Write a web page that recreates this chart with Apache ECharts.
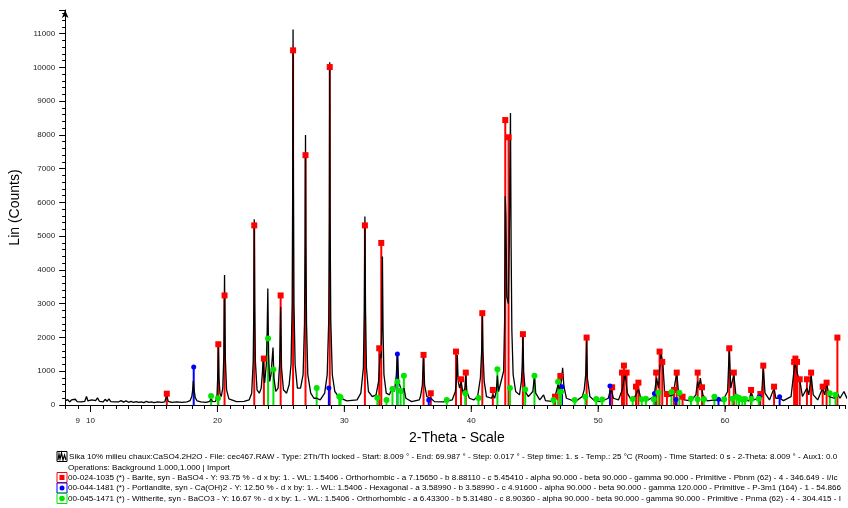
<!DOCTYPE html>
<html>
<head>
<meta charset="utf-8">
<script src="https://cdn.jsdelivr.net/npm/echarts@6/dist/echarts.min.js"></script>
<style>
  html, body { margin: 0; padding: 0; background: #fff; }
  #chart { width: 848px; height: 508px; }
</style>
</head>
<body>
<div id="chart"></div>
<script>
var scan = [
  [8.0,120],[8.2,160],[8.35,90],[8.5,150],[8.65,110],[8.8,170],[8.95,100],[9.1,140],[9.25,95],[9.4,150],
  [9.55,110],[9.68,250],[9.8,120],[9.95,90],[10.1,150],[10.25,100],[10.4,130],[10.55,210],[10.7,110],[10.85,140],
  [11.0,90],[11.15,170],[11.3,110],[11.45,180],[11.6,100],[11.75,150],[11.9,95],[12.05,140],[12.2,90],[12.4,130],
  [12.6,85],[12.8,120],[13.0,80],[13.2,110],[13.4,75],[13.6,100],[13.8,80],[14.0,95],[14.2,70],[14.4,105],
  [14.6,75],[14.8,90],[15.0,70],[15.3,95],[15.6,75],[15.85,90],[16.0,300],[16.12,110],[16.4,80],[16.8,95],
  [17.2,75],[17.6,90],[17.85,130],[17.98,250],[18.05,450],[18.1,720],[18.16,450],[18.25,220],[18.4,120],[18.7,90],
  [19.1,80],[19.4,110],[19.5,210],[19.6,100],[19.85,110],[19.97,300],[20.02,800],[20.07,1850],[20.12,800],[20.2,350],
  [20.3,250],[20.42,500],[20.5,1400],[20.56,3850],[20.62,1400],[20.72,450],[20.9,180],[21.5,100],[22.1,110],[22.5,150],
  [22.7,350],[22.82,1300],[22.87,3000],[22.9,5500],[22.94,3000],[22.99,1300],[23.12,450],[23.3,350],[23.45,500],[23.55,1000],
  [23.6,1400],[23.66,900],[23.72,650],[23.85,1200],[23.92,2200],[23.97,3450],[24.03,1500],[24.12,700],[24.22,900],[24.3,1300],
  [24.38,1700],[24.45,800],[24.6,400],[24.78,500],[24.9,1200],[24.98,2900],[25.05,1100],[25.2,450],[25.45,350],[25.65,600],
  [25.8,1200],[25.89,3000],[25.93,6500],[25.96,11120],[25.99,6500],[26.03,3000],[26.12,1200],[26.3,500],[26.55,500],[26.75,900],
  [26.86,2400],[26.91,4800],[26.94,8000],[26.97,4800],[27.02,2400],[27.12,900],[27.35,350],[27.6,200],[27.82,200],[28.1,150],
  [28.45,350],[28.65,900],[28.77,2500],[28.82,5500],[28.85,10150],[28.88,5500],[28.93,2500],[29.05,900],[29.25,400],[29.6,220],
  [30.2,120],[31.0,150],[31.3,350],[31.5,1100],[31.57,2800],[31.62,5580],[31.67,2800],[31.74,1100],[31.9,400],[32.2,250],
  [32.5,300],[32.7,700],[32.82,1500],[32.9,1400],[32.96,2500],[33.0,4400],[33.05,2200],[33.12,900],[33.3,350],[33.55,300],
  [33.8,550],[33.95,400],[34.1,900],[34.18,1550],[34.28,700],[34.43,700],[34.55,350],[34.7,500],[34.85,200],[35.3,100],
  [35.9,150],[36.0,250],[36.15,600],[36.24,1480],[36.32,600],[36.5,250],[36.81,200],[37.1,100],[37.8,90],[38.5,150],
  [38.75,400],[38.84,800],[38.9,1480],[38.97,700],[39.08,500],[39.2,700],[39.35,350],[39.5,500],[39.57,900],[39.65,400],
  [39.85,200],[40.2,150],[40.5,250],[40.72,800],[40.82,1600],[40.87,2700],[40.92,1600],[41.02,700],[41.2,250],[41.6,200],
  [41.7,300],[41.85,200],[41.98,450],[42.06,870],[42.15,400],[42.3,350],[42.55,1000],[42.63,2500],[42.68,6180],[42.73,5600],
  [42.8,3200],[42.92,3000],[43.0,5000],[43.09,8650],[43.14,4750],[43.2,2200],[43.3,900],[43.5,400],[43.8,300],[43.95,700],
  [44.02,1200],[44.07,2090],[44.13,1000],[44.25,400],[44.5,250],[44.85,400],[44.98,860],[45.08,350],[45.4,150],[45.7,300],
  [45.85,130],[46.3,110],[46.6,250],[46.84,600],[46.95,450],[47.12,750],[47.2,1100],[47.3,550],[47.5,200],[48.2,100],
  [48.75,250],[48.9,450],[49.02,900],[49.09,1950],[49.15,800],[49.35,250],[49.7,130],[50.2,100],[50.8,200],[51.0,500],
  [51.2,200],[51.6,150],[51.9,450],[52.03,750],[52.1,1000],[52.3,350],[52.6,150],[53.0,300],[53.17,500],[53.35,200],
  [53.8,120],[54.4,250],[54.6,800],[54.75,500],[54.95,1580],[55.1,1200],[55.25,300],[55.5,250],[55.9,300],[56.19,950],
  [56.35,300],[56.8,150],[57.3,120],[57.7,300],[57.84,700],[57.95,500],[58.05,800],[58.25,300],[58.6,120],[59.2,150],
  [59.8,120],[60.2,400],[60.33,1650],[60.45,500],[60.69,900],[60.85,300],[61.3,150],[61.9,120],[62.05,400],[62.25,150],
  [62.7,200],[62.9,400],[63.01,1100],[63.15,350],[63.5,150],[63.86,500],[64.0,200],[64.3,200],[64.6,130],[65.2,250],
  [65.5,1250],[65.6,1100],[65.72,900],[65.9,700],[66.1,250],[66.45,500],[66.6,300],[66.78,870],[66.95,300],[67.3,150],
  [67.69,500],[67.85,300],[68.0,650],[68.2,250],[68.6,200],[68.85,350],[69.05,200],[69.37,400],[69.6,200],[69.987,150]
];

// reference lines [2-theta, counts]
var barite = [
  [16.01,335],[20.07,1800],[20.56,3245],[22.9,5320],[23.66,1375],[24.98,3245],[25.96,10505],[26.94,7400],
  [28.85,10010],[31.62,5320],[32.75,1680],[32.91,4800],[36.24,1484],[36.81,347],[38.8,1582],[39.19,762],
  [39.57,960],[40.87,2720],[41.7,445],[42.68,8440],[42.94,7930],[44.07,2098],[46.6,247],[47.02,860],
  [49.09,1997],[51.1,525],[51.88,960],[52.03,1167],[52.24,960],[52.98,543],[53.17,662],[54.57,960],
  [54.84,1582],[55.05,1276],[55.42,326],[55.98,445],[56.19,960],[56.65,247],[57.84,960],[58.18,525],
  [60.33,1680],[60.69,960],[62.05,445],[62.78,326],[63.01,1167],[63.86,543],[65.44,1276],[65.54,1375],
  [65.67,1276],[65.88,762],[66.45,762],[66.78,960],[67.69,543],[68.0,662],[68.85,1997]
];
var portlandite = [
  [18.13,1128],[28.78,505],[34.18,1513],[36.65,150],[47.15,543],[50.93,564],[54.43,340],[56.13,160],
  [59.48,168],[62.7,247],[64.3,247]
];
var witherite = [
  [19.5,270],[20.04,200],[23.99,1970],[24.41,1050],[27.82,505],[29.6,250],[29.7,220],[32.6,212],
  [33.32,150],[33.79,475],[34.18,690],[34.43,425],[34.69,870],[38.07,150],[39.53,347],[40.57,205],
  [42.06,1058],[43.05,505],[44.25,460],[44.98,870],[46.48,150],[46.84,690],[47.07,395],[48.15,150],
  [48.99,247],[49.85,178],[50.32,160],[52.72,178],[53.43,168],[53.76,188],[54.38,168],[54.74,370],
  [55.78,386],[56.4,366],[57.31,188],[57.84,168],[58.33,168],[59.16,247],[59.93,168],[60.58,188],
  [60.9,247],[61.1,208],[61.36,168],[61.57,178],[62.08,178],[62.65,188],[68.25,347],[68.7,307]
];

var xLabels = [9, 10, 20, 30, 40, 50, 60];
var xMajor = [10, 20, 30, 40, 50, 60];

var infoLines = [
  'Sika 10% milieu chaux:CaSO4.2H2O - File: cec467.RAW - Type: 2Th/Th locked - Start: 8.009 ° - End: 69.987 ° - Step: 0.017 ° - Step time: 1. s - Temp.: 25 °C (Room) - Time Started: 0 s - 2-Theta: 8.009 ° - Aux1: 0.0',
  'Operations: Background 1.000,1.000 | Import',
  '00-024-1035 (*) - Barite, syn - BaSO4 - Y: 93.75 % - d x by: 1. - WL: 1.5406 - Orthorhombic - a 7.15650 - b 8.88110 - c 5.45410 - alpha 90.000 - beta 90.000 - gamma 90.000 - Primitive - Pbnm (62) - 4 - 346.649 - I/Ic',
  '00-044-1481 (*) - Portlandite, syn - Ca(OH)2 - Y: 12.50 % - d x by: 1. - WL: 1.5406 - Hexagonal - a 3.58990 - b 3.58990 - c 4.91600 - alpha 90.000 - beta 90.000 - gamma 120.000 - Primitive - P-3m1 (164) - 1 - 54.866',
  '00-045-1471 (*) - Witherite, syn - BaCO3 - Y: 16.67 % - d x by: 1. - WL: 1.5406 - Orthorhombic - a 6.43300 - b 5.31480 - c 8.90360 - alpha 90.000 - beta 90.000 - gamma 90.000 - Primitive - Pnma (62) - 4 - 304.415 - I'
];

var RED = '#ff0000', BLUE = '#0000ff', GREEN = '#00e600';
var FONT = '"Liberation Sans", Arial, sans-serif';

function stick(color) {
  return function(params, api) {
    var top = api.coord([api.value(0), api.value(1)]);
    var base = api.coord([api.value(0), 0]);
    return {
      type: 'line',
      shape: { x1: base[0], y1: base[1], x2: top[0], y2: top[1] },
      style: { stroke: color, lineWidth: 2 }
    };
  };
}

function markers(data, color, symbol, size) {
  return {
    type: 'scatter', data: data, symbol: symbol, symbolSize: size, z: 5,
    itemStyle: { color: color, opacity: 1 }, silent: true
  };
}

// legend block under the axis
var graphics = [{
  type: 'text', x: 409, y: 431,
  style: { text: '2-Theta - Scale', font: '14px ' + FONT, fill: '#000' }
}];
var lineY = [457, 467.5, 477.5, 488, 498.5];
infoLines.forEach(function(t, i) {
  graphics.push({
    type: 'text', x: i === 0 ? 69 : 68, y: lineY[i],
    style: { text: t, font: '8.1px ' + FONT, fill: '#000', verticalAlign: 'middle' }
  });
});
graphics.push(
  { type: 'rect', shape: { x: 57, y: 451.5, width: 10, height: 10 }, style: { fill: '#fff', stroke: '#000', lineWidth: 1 } },
  { type: 'polyline', shape: { points: [[58,460],[59,454],[60,459],[61.5,453],[63,460],[64.5,455],[66,460]] }, style: { fill: null, stroke: '#000', lineWidth: 1.2 } },
  { type: 'rect', shape: { x: 57, y: 472.5, width: 10, height: 10 }, style: { fill: '#fff', stroke: RED, lineWidth: 1 } },
  { type: 'rect', shape: { x: 59.5, y: 475, width: 5, height: 5 }, style: { fill: RED } },
  { type: 'rect', shape: { x: 57, y: 483, width: 10, height: 10 }, style: { fill: '#fff', stroke: BLUE, lineWidth: 1 } },
  { type: 'circle', shape: { cx: 62, cy: 488, r: 2.5 }, style: { fill: BLUE } },
  { type: 'rect', shape: { x: 57, y: 493.5, width: 10, height: 10 }, style: { fill: '#fff', stroke: GREEN, lineWidth: 1 } },
  { type: 'circle', shape: { cx: 62, cy: 498.5, r: 2.8 }, style: { fill: GREEN } }
);

var chart = echarts.init(document.getElementById('chart'), null, { renderer: 'canvas' });
chart.setOption({
  animation: false,
  backgroundColor: '#fff',
  grid: { left: 55, right: 0, top: 10, bottom: 103 },
  xAxis: {
    type: 'value', min: 8, max: 69.45, interval: 1,
    axisLine: { lineStyle: { color: '#000', width: 1 } },
    axisTick: { length: 4, lineStyle: { color: '#000' } },
    splitLine: { show: false },
    axisLabel: {
      margin: 12, fontSize: 8, color: '#222', fontFamily: FONT,
      formatter: function(v) { return xLabels.indexOf(v) >= 0 ? String(v) : ''; }
    }
  },
  yAxis: {
    type: 'value', min: 0, max: 11700, interval: 1000,
    name: 'Lin (Counts)', nameLocation: 'middle', nameGap: 26, nameRotate: 90,
    nameTextStyle: { fontSize: 14, color: '#000', fontFamily: FONT },
    axisLine: { show: true, symbol: ['none', 'arrow'], symbolSize: [5, 8], lineStyle: { color: '#000', width: 1 } },
    axisTick: { length: 6, lineStyle: { color: '#000' } },
    minorTick: { show: true, splitNumber: 5, length: 3, lineStyle: { color: '#000' } },
    splitLine: { show: false },
    axisLabel: {
      margin: 10, fontSize: 8, color: '#222', fontFamily: FONT,
      formatter: function(v) { return v % 1000 === 0 ? String(v) : ''; }
    }
  },
  graphic: graphics,
  series: [
    { type: 'custom', renderItem: stick(RED), data: barite, z: 2, silent: true },
    { type: 'custom', renderItem: stick(BLUE), data: portlandite, z: 2, silent: true },
    { type: 'custom', renderItem: stick(GREEN), data: witherite, z: 2, silent: true },
    {
      type: 'line', data: scan, showSymbol: false, z: 3, silent: true,
      lineStyle: { color: '#000', width: 1.3 }
    },
    markers(barite, RED, 'rect', 6),
    markers(portlandite, BLUE, 'circle', 5),
    markers(witherite, GREEN, 'circle', 6),
    {
      // longer ticks at every ten degrees
      type: 'custom', z: 6, silent: true, clip: false,
      data: xMajor.map(function(v) { return [v, 0]; }),
      renderItem: function(params, api) {
        var p = api.coord([api.value(0), 0]);
        return { type: 'line', shape: { x1: p[0], y1: p[1], x2: p[0], y2: p[1] + 7 }, style: { stroke: '#000', lineWidth: 1 } };
      }
    }
  ]
});
window.addEventListener('resize', function() { chart.resize(); });
</script>
</body>
</html>
